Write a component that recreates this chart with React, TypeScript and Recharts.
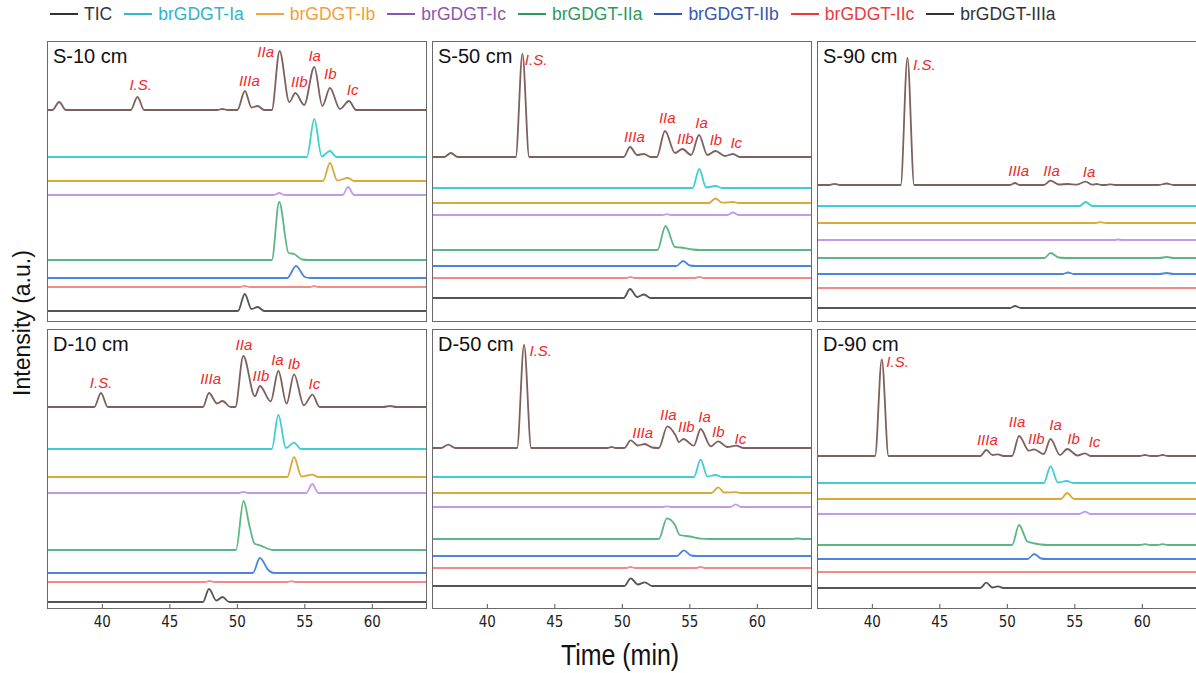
import React from 'react';
import { LineChart, Line, XAxis, YAxis, ReferenceDot } from 'recharts';

type Pt = [number, number];
type Peak = [string, number, number];

const T_MIN = 35.9;
const T_MAX = 64.05;
const TIME_TICKS = [40, 45, 50, 55, 60];

const SERIES_NAMES = ['TIC', 'brGDGT-Ia', 'brGDGT-Ib', 'brGDGT-Ic', 'brGDGT-IIa', 'brGDGT-IIb', 'brGDGT-IIc', 'brGDGT-IIIa'];
const TRACE_COLORS = ['#7d615c', '#3fcdd6', '#d9aa3a', '#c39ae8', '#5bb683', '#4a86e0', '#f38a8a', '#555555'];
const LEGEND_LINE = ['#333333', '#2fbccb', '#f5a33a', '#8e56b3', '#2b9a5e', '#3557b3', '#ec3a3a', '#333333'];
const LEGEND_TEXT = ['#333333', '#2fb3c8', '#f59e35', '#8e56b3', '#2b9a5e', '#3557b3', '#ec3a3a', '#333333'];
const PEAK_RED = '#ee2a2a';

// ---- S-10 cm ----
const S10_BASE = [212, 165, 141, 127, 62, 44, 35, 11];
const S10_YTICKS = [62, 115, 167, 219, 272];
const S10_TRACES: Pt[][] = [
  [[36.3, 0], [36.8, 8], [37.3, 0], [42.1, 0], [42.6, 13], [43.1, 0], [48.5, 0], [48.9, 1], [49.3, 0],
   [50.0, 0], [50.56, 19], [51.05, 2.5], [51.5, 4], [52.0, 0], [52.55, 0], [53.13, 59], [53.85, 8], [54.3, 17],
   [54.95, 5], [55.7, 43], [56.3, 4], [56.86, 22], [57.6, 1], [58.27, 9], [58.8, 0]],
  [[55.15, 0], [55.7, 38], [56.25, 0.5], [56.86, 6], [57.35, 0]],
  [[56.35, 0], [56.86, 18], [57.4, 0.5], [58.2, 3], [58.65, 0]],
  [[52.7, 0], [53.1, 2], [53.5, 0], [57.8, 0], [58.2, 8], [58.65, 0]],
  [[52.55, 0], [53.1, 58], [53.8, 7], [54.2, 6], [54.8, 0.5], [55.3, 0]],
  [[53.7, 0], [54.35, 12], [55.0, 1], [55.4, 0]],
  [[50.2, 0], [50.55, 1], [50.9, 0], [55.4, 0], [55.7, 1], [56.0, 0]],
  [[50.05, 0], [50.55, 17], [51.05, 2], [51.5, 4], [52.0, 0]],
];
const S10_PEAKS: Peak[] = [
  ['I.S.', 42.84, 237], ['IIIa', 50.89, 241], ['IIa', 52.1, 270], ['IIb', 54.59, 240],
  ['Ia', 55.73, 266], ['Ib', 56.89, 248], ['Ic', 58.54, 232],
];

// ---- S-50 cm ----
const S50_BASE = [165, 134, 119, 107, 72, 56, 44, 24];
const S50_YTICKS = [99, 173, 248];
const S50_TRACES: Pt[][] = [
  [[36.8, 0], [37.3, 4], [37.8, 0], [42.1, 0], [42.6, 103], [43.1, 0], [50.1, 0], [50.57, 10], [51.1, 2],
   [51.6, 3], [52.1, 0], [52.55, 0], [53.16, 26], [53.9, 4], [54.45, 8], [55.1, 2], [55.68, 22], [56.3, 2],
   [56.9, 6], [57.6, 1], [58.2, 3], [58.7, 0]],
  [[55.2, 0], [55.7, 19], [56.2, 0.5], [56.9, 2], [57.4, 0]],
  [[56.4, 0], [56.9, 4.5], [57.4, 0.3], [58.2, 1], [58.6, 0]],
  [[53.0, 0], [53.3, 0.8], [53.6, 0], [57.8, 0], [58.2, 2.5], [58.6, 0]],
  [[52.6, 0], [53.2, 24], [53.9, 3], [54.3, 2.5], [55.2, 0.5], [55.8, 0]],
  [[54.0, 0], [54.5, 5], [55.0, 0.5], [55.4, 0]],
  [[50.3, 0], [50.6, 1], [50.9, 0], [55.4, 0], [55.7, 1.2], [56.0, 0]],
  [[50.1, 0], [50.57, 9], [51.1, 1], [51.6, 3.5], [52.1, 0]],
];
const S50_PEAKS: Peak[] = [
  ['I.S.', 43.61, 262], ['IIIa', 50.89, 185], ['IIa', 53.33, 204], ['IIb', 54.67, 183],
  ['Ia', 55.87, 199], ['Ib', 56.93, 182], ['Ic', 58.44, 179],
];

// ---- S-90 cm ----
const S90_BASE = [137, 116, 99, 82, 64, 48, 34, 14];
const S90_YTICKS = [82, 147, 215];
const S90_TRACES: Pt[][] = [
  [[36.8, 0], [37.2, 1.2], [37.6, 0], [42.1, 0], [42.6, 127], [43.1, 0], [50.2, 0], [50.57, 2], [50.9, 0],
   [52.7, 0], [53.2, 4.3], [53.8, 0.5], [54.5, 1], [55.1, 0.3], [55.8, 3.3], [56.3, 0.3], [56.6, 1], [57.0, 0],
   [57.3, 0], [57.6, 0.7], [58.0, 0], [61.2, 0], [61.8, 1.5], [62.3, 0]],
  [[55.35, 0], [55.8, 4], [56.3, 0]],
  [[56.5, 0], [56.9, 0.8], [57.3, 0]],
  [[57.9, 0], [58.2, 0.5], [58.5, 0]],
  [[52.75, 0], [53.2, 5], [53.8, 0.5], [54.3, 0], [61.3, 0], [61.8, 1], [62.3, 0]],
  [[54.1, 0], [54.5, 1.5], [54.9, 0], [61.3, 0], [61.8, 1], [62.3, 0]],
  [],
  [[50.2, 0], [50.57, 2], [51.0, 0]],
];
const S90_PEAKS: Peak[] = [
  ['I.S.', 43.85, 257], ['IIIa', 50.84, 151], ['IIa', 53.27, 151], ['Ia', 56.05, 150],
];

// ---- D-10 cm ----
const D10_BASE = [202, 160, 132, 116, 59, 36, 27, 7];
const D10_YTICKS = [52, 98, 143, 189, 234];
const D10_TRACES: Pt[][] = [
  [[39.4, 0], [39.9, 14], [40.4, 0], [47.45, 0], [47.9, 14], [48.5, 3.5], [48.9, 6], [49.5, 0], [49.85, 0],
   [50.44, 51], [51.3, 10.7], [51.67, 21], [52.47, 5.7], [53.04, 36], [53.65, 3.3], [54.2, 32.7], [54.93, 1.7],
   [55.56, 12.4], [56.1, 0], [60.8, 0], [61.3, 1], [61.8, 0]],
  [[52.55, 0], [53.04, 34], [53.6, 1], [54.2, 6.3], [54.7, 0]],
  [[53.7, 0], [54.2, 20], [54.75, 0.5], [55.55, 2.3], [56.0, 0]],
  [[50.1, 0], [50.45, 1.2], [50.8, 0], [55.1, 0], [55.55, 9], [56.0, 0]],
  [[49.9, 0], [50.46, 49], [50.9, 24], [51.27, 6.5], [51.67, 4.7], [52.65, 0]],
  [[51.15, 0], [51.67, 15], [52.3, 3], [52.7, 0]],
  [[47.6, 0], [47.95, 1], [48.3, 0], [53.7, 0], [54.0, 0.8], [54.3, 0]],
  [[47.45, 0], [47.9, 13], [48.45, 1.5], [48.9, 5], [49.4, 0]],
];
const D10_PEAKS: Peak[] = [
  ['I.S.', 39.91, 226], ['IIIa', 48.02, 230], ['IIa', 50.49, 264], ['IIb', 51.75, 233],
  ['Ia', 52.97, 249], ['Ib', 54.19, 245], ['Ic', 55.71, 225],
];

// ---- D-50 cm ----
const D50_BASE = [161, 132, 116, 102, 70, 53, 41, 23];
const D50_YTICKS = [69, 116, 162, 210, 256];
const D50_TRACES: Pt[][] = [
  [[36.6, 0], [37.1, 3.3], [37.6, 0], [42.2, 0], [42.72, 103], [43.25, 0], [48.9, 0], [49.2, 1], [49.5, 0],
   [50.15, 0], [50.62, 7.7], [51.15, 2.5], [51.67, 4], [52.2, 0.5], [52.7, 0], [53.33, 21.7], [53.93, 13],
   [54.2, 6], [54.52, 9], [55.3, 2.3], [55.8, 19], [56.55, 1.7], [57.1, 6.7], [57.77, 1], [58.44, 2.3], [59.0, 0]],
  [[55.3, 0], [55.8, 17.3], [56.3, 0.5], [56.9, 2], [57.4, 0]],
  [[56.6, 0], [57.1, 5.7], [57.55, 0.5], [58.4, 0.8], [58.8, 0]],
  [[53.0, 0], [53.3, 0.6], [53.6, 0], [58.0, 0], [58.4, 2.7], [58.8, 0]],
  [[52.7, 0], [53.3, 20.7], [53.9, 14], [54.25, 4], [55.0, 2.5], [55.8, 0.3], [56.5, 0], [62.5, 0], [63.0, 0.5], [63.4, 0]],
  [[54.05, 0], [54.55, 5.7], [55.1, 0.5], [55.5, 0]],
  [[50.3, 0], [50.62, 1], [50.95, 0], [55.5, 0], [55.8, 1.2], [56.1, 0]],
  [[50.15, 0], [50.62, 7.7], [51.15, 1.5], [51.67, 3.7], [52.2, 0]],
];
const D50_PEAKS: Peak[] = [
  ['I.S.', 43.96, 258], ['IIIa', 51.51, 176], ['IIa', 53.41, 194], ['IIb', 54.74, 182],
  ['Ia', 56.09, 192], ['Ib', 57.11, 177], ['Ic', 58.74, 170],
];

// ---- D-90 cm ----
const D90_BASE = [153, 126, 110, 95, 64, 50, 37, 21];
const D90_YTICKS = [86, 151, 214];
const D90_TRACES: Pt[][] = [
  [[40.2, 0], [40.7, 96.7], [41.2, 0], [48.0, 0], [48.44, 6], [48.9, 1], [49.3, 1.7], [49.7, 0], [50.35, 0],
   [50.87, 20], [51.6, 5.3], [51.98, 6.7], [52.7, 2], [53.2, 17], [53.9, 1], [54.44, 7], [55.2, 0.5],
   [55.75, 2.7], [56.2, 0], [59.8, 0], [60.2, 1], [60.6, 0], [61.1, 0], [61.5, 1], [61.9, 0]],
  [[52.7, 0], [53.2, 16.7], [53.75, 0.5], [54.4, 2], [54.9, 0]],
  [[53.95, 0], [54.44, 6], [54.95, 0]],
  [[55.35, 0], [55.75, 2.3], [56.15, 0]],
  [[50.35, 0], [50.87, 20], [51.5, 3.3], [52.5, 0.5], [53.0, 0], [59.8, 0], [60.2, 0.8], [60.6, 0], [61.1, 0], [61.5, 0.8], [61.9, 0]],
  [[51.5, 0], [52.0, 5], [52.5, 0.5], [52.9, 0]],
  [],
  [[48.0, 0], [48.44, 5.3], [48.9, 0.5], [49.3, 1.7], [49.7, 0]],
];
const D90_PEAKS: Peak[] = [
  ['I.S.', 41.87, 247], ['IIIa', 48.52, 169], ['IIa', 50.72, 187], ['IIb', 52.15, 170],
  ['Ia', 53.57, 184], ['Ib', 54.9, 170], ['Ic', 56.46, 167],
];

interface PanelDef {
  title: string;
  left: number;
  top: number;
  height: number;
  bottomRow: boolean;
  base: number[];
  yTicks: number[];
  traces: Pt[][];
  peaks: Peak[];
}

const PANEL_W = 380;
const AXIS_H = 34;

const PANELS: PanelDef[] = [
  { title: 'S-10 cm', left: 47, top: 41, height: 281, bottomRow: false, base: S10_BASE, yTicks: S10_YTICKS, traces: S10_TRACES, peaks: S10_PEAKS },
  { title: 'S-50 cm', left: 432, top: 41, height: 281, bottomRow: false, base: S50_BASE, yTicks: S50_YTICKS, traces: S50_TRACES, peaks: S50_PEAKS },
  { title: 'S-90 cm', left: 817, top: 41, height: 281, bottomRow: false, base: S90_BASE, yTicks: S90_YTICKS, traces: S90_TRACES, peaks: S90_PEAKS },
  { title: 'D-10 cm', left: 47, top: 329, height: 280, bottomRow: true, base: D10_BASE, yTicks: D10_YTICKS, traces: D10_TRACES, peaks: D10_PEAKS },
  { title: 'D-50 cm', left: 432, top: 329, height: 280, bottomRow: true, base: D50_BASE, yTicks: D50_YTICKS, traces: D50_TRACES, peaks: D50_PEAKS },
  { title: 'D-90 cm', left: 817, top: 329, height: 280, bottomRow: true, base: D90_BASE, yTicks: D90_YTICKS, traces: D90_TRACES, peaks: D90_PEAKS },
];

const toSeries = (pts: Pt[], base: number) =>
  ([[T_MIN, 0], ...pts, [T_MAX, 0]] as Pt[]).map(([t, v]) => ({ t, v: base + v }));

const SANS = '"Liberation Sans", Arial, Helvetica, sans-serif';
const NARROW = '"Liberation Sans Narrow", "Arial Narrow", "DejaVu Sans Condensed", sans-serif';

const Panel: React.FC<{ p: PanelDef }> = ({ p }) => {
  const chartH = p.height + (p.bottomRow ? AXIS_H : 0);
  return (
    <div style={{ position: 'absolute', left: p.left, top: p.top, width: PANEL_W, height: chartH }}>
      <LineChart width={PANEL_W} height={chartH} margin={{ top: 0, right: 0, bottom: 0, left: 0 }}>
        <XAxis
          dataKey="t"
          type="number"
          domain={[T_MIN, T_MAX]}
          ticks={TIME_TICKS}
          allowDataOverflow
          height={p.bottomRow ? AXIS_H : 0}
          axisLine={false}
          tickSize={-5}
          tickMargin={12}
          tickLine={{ stroke: '#555', strokeWidth: 1 }}
          tick={p.bottomRow ? { fill: '#222', fontSize: 15, fontFamily: NARROW } : false}
        />
        <YAxis
          type="number"
          domain={[0, p.height]}
          ticks={p.yTicks}
          allowDataOverflow
          width={0}
          axisLine={false}
          tickSize={-4}
          tickLine={{ stroke: '#555', strokeWidth: 1 }}
          tick={false}
        />
        {p.traces.map((pts, i) => (
          <Line
            key={SERIES_NAMES[i]}
            data={toSeries(pts, p.base[i])}
            dataKey="v"
            type="monotone"
            stroke={TRACE_COLORS[i]}
            strokeWidth={1.8}
            dot={false}
            isAnimationActive={false}
          />
        ))}
        {p.peaks.map(([name, t, y]) => (
          <ReferenceDot
            key={name}
            x={t}
            y={y}
            r={0}
            fill="none"
            stroke="none"
            label={{ value: name, position: 'center', fill: PEAK_RED, fontSize: 15, fontStyle: 'italic', fontFamily: SANS }}
          />
        ))}
      </LineChart>
      <div
        style={{
          position: 'absolute', left: 0, top: 0, width: PANEL_W, height: p.height,
          border: '1.6px solid #6a6a6a', boxSizing: 'border-box', pointerEvents: 'none',
        }}
      />
      <div style={{ position: 'absolute', left: 6, top: 4, fontSize: 20, color: '#111', fontFamily: SANS }}>
        {p.title}
      </div>
    </div>
  );
};

const App: React.FC = () => {
  return (
    <div style={{ position: 'absolute', left: 0, top: 0, width: 1196, height: 673, background: '#fff', overflow: 'hidden', fontFamily: SANS }}>
      <div style={{ position: 'absolute', left: 50, top: 2, height: 24, display: 'flex', alignItems: 'center', gap: 12 }}>
        {SERIES_NAMES.map((name, i) => (
          <div key={name} style={{ display: 'flex', alignItems: 'center' }}>
            <div style={{ width: 28, height: 2.5, background: LEGEND_LINE[i], marginRight: 6 }} />
            <span style={{ fontSize: 17.5, color: LEGEND_TEXT[i] }}>{name}</span>
          </div>
        ))}
      </div>
      {PANELS.map((p) => (
        <Panel key={p.title} p={p} />
      ))}
      <div
        style={{
          position: 'absolute', left: 22 - 110, top: 323 - 15, width: 220, height: 30, lineHeight: '30px',
          textAlign: 'center', fontSize: 23, color: '#111', transform: 'rotate(-90deg)',
        }}
      >
        Intensity (a.u.)
      </div>
      <div
        style={{
          position: 'absolute', left: 620 - 100, top: 638, width: 200, height: 34, lineHeight: '34px',
          textAlign: 'center', fontSize: 29, color: '#111', transform: 'scaleX(0.86)',
        }}
      >
        Time (min)
      </div>
    </div>
  );
};

export default App;
